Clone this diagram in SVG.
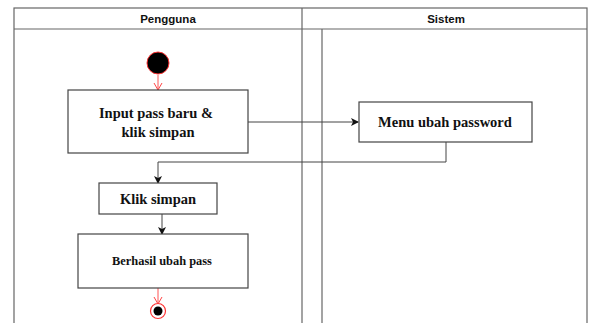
<svg xmlns="http://www.w3.org/2000/svg" width="590" height="323" viewBox="0 0 590 323">
<style>
.lane{fill:none;stroke:#666;stroke-width:1.2}
.box{fill:#fff;stroke:#444;stroke-width:1.2}
.hd{font-family:"Liberation Sans",Arial,sans-serif;font-weight:bold;font-size:11.5px;fill:#111;text-anchor:middle}
.t{font-family:"Liberation Serif","Times New Roman",serif;font-weight:bold;fill:#111;text-anchor:middle}
.c{fill:none;stroke:#444;stroke-width:1}
.r{fill:none;stroke:#f55;stroke-width:1}
</style>
<defs>
<marker id="ab" markerWidth="8" markerHeight="8" refX="7" refY="4" orient="auto" markerUnits="userSpaceOnUse"><path d="M0,0 L8,4 L0,8 L2,4 z" fill="#111"/></marker>
<marker id="ar" markerWidth="10" markerHeight="10" refX="8" refY="5" orient="auto" markerUnits="userSpaceOnUse"><path d="M1,1 L8,5 L1,9" fill="none" stroke="#f44" stroke-width="1"/></marker>
</defs>
<rect width="590" height="323" fill="#fff"/>
<g id="swimlanes">
<rect class="lane" x="14" y="8" width="573" height="320"/>
<line class="lane" x1="14" y1="29" x2="587" y2="29"/>
<line class="lane" x1="302" y1="8" x2="302" y2="323"/>
<line class="lane" x1="322" y1="29" x2="322" y2="323"/>
<text class="hd" x="168" y="23">Pengguna</text>
<text class="hd" x="446" y="23">Sistem</text>
</g>
<g id="connectors">
<line class="r" x1="158" y1="75" x2="158" y2="90" marker-end="url(#ar)"/>
<line class="c" x1="248" y1="122" x2="358" y2="122" marker-end="url(#ab)"/>
<polyline class="c" points="446,142 446,162 158,162 158,183" marker-end="url(#ab)"/>
<line class="c" x1="162" y1="214" x2="162" y2="234" marker-end="url(#ab)"/>
<line class="r" x1="158" y1="288" x2="158" y2="304" marker-end="url(#ar)"/>
</g>
<g id="start">
<circle cx="158" cy="63" r="11" fill="#000" stroke="#f33" stroke-width="1"/>
</g>
<g id="input">
<rect class="box" x="68" y="90" width="180" height="63"/>
<text class="t" x="156" y="118" font-size="14.5">Input pass baru &amp;</text>
<text class="t" x="158" y="137" font-size="14.5">klik simpan</text>
</g>
<g id="menu">
<rect class="box" x="359" y="102" width="173" height="40"/>
<text class="t" x="445" y="127" font-size="14.5">Menu ubah password</text>
</g>
<g id="klik">
<rect class="box" x="99" y="183" width="118" height="31"/>
<text class="t" x="158" y="204" font-size="14.5">Klik simpan</text>
</g>
<g id="berhasil">
<rect class="box" x="78" y="234" width="170" height="54"/>
<text class="t" x="162" y="265" font-size="12.4">Berhasil ubah pass</text>
</g>
<g id="end">
<circle cx="158" cy="311" r="7.5" fill="#fff" stroke="#f33" stroke-width="1.2"/>
<circle cx="158" cy="311" r="4.5" fill="#000"/>
</g>
</svg>
